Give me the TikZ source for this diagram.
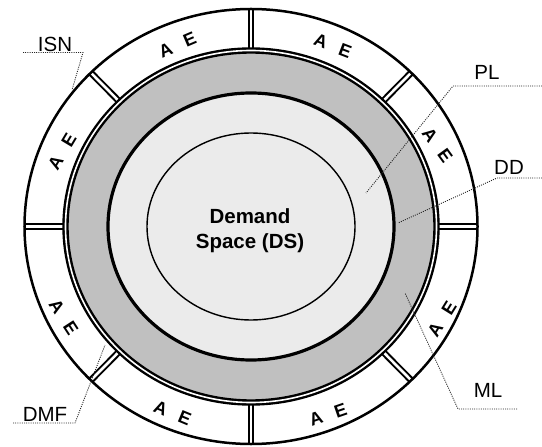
\documentclass[tikz,border=0pt]{standalone}
\usepackage{fontspec}
\setmainfont{Liberation Sans}
\definecolor{ringgray}{RGB}{192,192,192}
\definecolor{coregray}{RGB}{235,235,235}
\tikzset{
  outerline/.style={line width=2.5bp},
  ringline/.style={line width=2.4bp, double=white, double distance=1.6bp},
  spokeline/.style={line width=2bp, double=white, double distance=2.6bp},
  thickline/.style={line width=3.2bp},
  thinline/.style={line width=1.4bp},
  leader/.style={line width=0.9bp, dash pattern=on 1bp off 1.2bp, black!85},
  lbl/.style={font=\fontsize{20.5bp}{24bp}\selectfont, inner sep=0pt, anchor=base},
  dstext/.style={font=\bfseries\fontsize{20.5bp}{24bp}\selectfont, inner sep=0pt, anchor=base},
  aetext/.style={font=\bfseries\fontsize{18bp}{20bp}\selectfont, inner sep=0pt},
}
\newcommand{\aelabel}{A\hspace{13.4bp}E}
\begin{document}
\begin{tikzpicture}[x=1bp,y=-1bp]
\useasboundingbox (0,0) rectangle (542,447);
\coordinate (c) at (251,226.5);
% fills
\fill[ringgray] (c) ellipse [x radius=185.5bp, y radius=176bp];
\fill[coregray] (c) ellipse [x radius=143bp, y radius=133.5bp];
% spokes
\foreach \a in {0,45,...,315} {
  \coordinate (si\a) at ({251+185.5*cos(\a)},{226.5-176*sin(\a)});
  \coordinate (so\a) at ({251+226.5*cos(\a)},{226.5-217.5*sin(\a)});
  \draw[spokeline] (si\a) -- (so\a);
}
% circles
\draw[outerline] (c) ellipse [x radius=226.5bp, y radius=217.5bp];
\draw[ringline] (c) ellipse [x radius=185.5bp, y radius=176bp];
\draw[thickline] (c) ellipse [x radius=143bp, y radius=133.5bp];
\draw[thinline] (c) ellipse [x radius=104bp, y radius=93.5bp];
% AE labels
\node[aetext, rotate=23]   (ae1) at (177.5,45)   {\aelabel};
\node[aetext, rotate=-21]  (ae2) at (332.8,45.8) {\aelabel};
\node[aetext, rotate=-54]  (ae3) at (437.5,144.9) {\aelabel};
\node[aetext, rotate=58]   (ae4) at (442,319)    {\aelabel};
\node[aetext, rotate=19]   (ae5) at (328,414.8)  {\aelabel};
\node[aetext, rotate=-22.5] (ae6) at (172.5,412.7) {\aelabel};
\node[aetext, rotate=-57]  (ae7) at (63.7,317)   {\aelabel};
\node[aetext, rotate=59]   (ae8) at (62.2,151.7) {\aelabel};
% centre text
\node[dstext] (ds1) at (250,224) {Demand};
\node[dstext] (ds2) at (250,248.3) {Space (DS)};
% labels
\node[lbl] (isn) at (55,51.5) {ISN};
\node[lbl] (pl)  at (487,80)  {PL};
\node[lbl] (dd)  at (509,175) {DD};
\node[lbl] (ml)  at (488,397) {ML};
\node[lbl] (dmf) at (45,421.5){DMF};
% leader coordinates
\coordinate (isnA) at (23,52.5);  \coordinate (isnB) at (83,52.5);  \coordinate (isnC) at (72,90);
\coordinate (plA)  at (542,86);   \coordinate (plB)  at (453,86);   \coordinate (plC)  at (366,193);
\coordinate (ddA)  at (542,178);  \coordinate (ddB)  at (497,178);  \coordinate (ddC)  at (398,223);
\coordinate (mlA)  at (517,409);  \coordinate (mlB)  at (458,409);  \coordinate (mlC)  at (405,293);
\coordinate (dmfA) at (13,423);   \coordinate (dmfB) at (75,423);   \coordinate (dmfC) at (105,345);
\draw[leader] (isnA) -- (isnB) -- (isnC);
\draw[leader] (plA) -- (plB) -- (plC);
\draw[leader] (ddA) -- (ddB) -- (ddC);
\draw[leader] (mlA) -- (mlB) -- (mlC);
\draw[leader] (dmfA) -- (dmfB) -- (dmfC);
\end{tikzpicture}
\end{document}
